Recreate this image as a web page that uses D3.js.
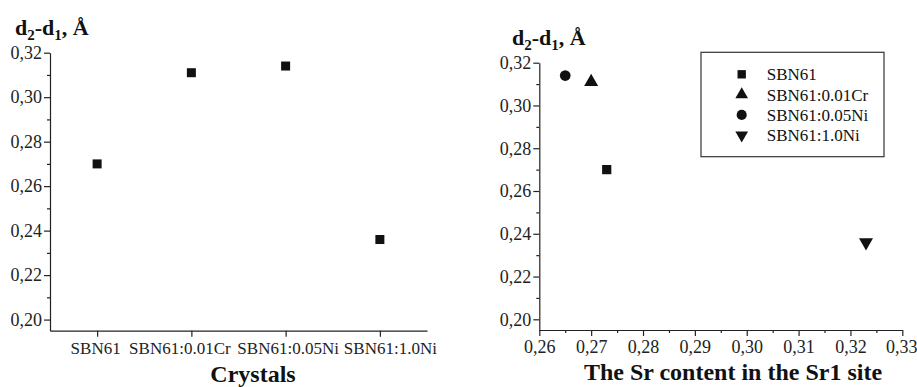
<!DOCTYPE html>
<html>
<head>
<meta charset="utf-8">
<script src="https://cdn.jsdelivr.net/npm/d3@7"></script>
<style>
  body { margin: 0; background: #fff; }
  svg, svg text { font-family: "Liberation Serif", "Times New Roman", serif; }
  .axis path, .axis line { stroke: #222; stroke-width: 1.2; }
  .axis text { fill: #222; }
</style>
</head>
<body>
<svg id="chart" width="917" height="387"></svg>
<script>
// left panel: d2-d1 per crystal
const crystals = ['SBN61', 'SBN61:0.01Cr', 'SBN61:0.05Ni', 'SBN61:1.0Ni'];
const deltaD = [0.270, 0.311, 0.314, 0.236];

// right panel: same values against Sr content in Sr1 site
const srContent = [0.273, 0.270, 0.265, 0.323];
const markerShapes = ['square', 'triangle', 'circle', 'triangleDown'];

const yTicks = [0.20, 0.22, 0.24, 0.26, 0.28, 0.30, 0.32];
const xTicksRight = [0.26, 0.27, 0.28, 0.29, 0.30, 0.31, 0.32, 0.33];

// the category labels sit a little off their ticks in the original
const labelShift = [-2, -12, 2, 10];

const svg = d3.select('#chart');
const comma = d => d3.format('.2f')(d).replace('.', ',');

function symbolFor(shape, size) {
  if (shape === 'square') return d3.symbol().type(d3.symbolSquare).size(size)();
  if (shape === 'circle') return d3.symbol().type(d3.symbolCircle).size(size)();
  // triangleDown is the same path rotated
  return d3.symbol().type(d3.symbolTriangle).size(size)();
}

function yTitle(x, y) {
  const t = svg.append('text')
    .attr('x', x).attr('y', y)
    .attr('font-size', 22).attr('font-weight', 'bold').attr('fill', '#111');
  t.append('tspan').text('d');
  t.append('tspan').attr('font-size', 15).attr('dy', 5).text('2');
  t.append('tspan').attr('dy', -5).text('-d');
  t.append('tspan').attr('font-size', 15).attr('dy', 5).text('1');
  t.append('tspan').attr('dy', -5).text(', Å');
}

function serif(s, size) {
  s.selectAll('text')
    .style('font-family', '"Liberation Serif", "Times New Roman", serif')
    .style('font-size', size + 'px');
}

function drawY(g, y, x0) {
  g.append('g').attr('class', 'axis')
    .attr('transform', `translate(${x0},0)`)
    .call(d3.axisLeft(y).tickValues(d3.range(0.21, 0.32, 0.02)).tickSize(3).tickFormat(''))
    .call(s => s.select('.domain').remove());
  g.append('g').attr('class', 'axis')
    .attr('transform', `translate(${x0},0)`)
    .call(d3.axisLeft(y).tickValues(yTicks).tickSize(6).tickSizeOuter(0).tickPadding(2).tickFormat(comma))
    .call(s => serif(s, 18));
}

// ---------- left panel ----------
const xL = d3.scaleLinear().domain([0.5, 4.5]).range([50, 427]);
const yL = d3.scaleLinear().domain([0.195, 0.32]).range([330.7, 52.7]);
const gL = svg.append('g');

drawY(gL, yL, 50);
gL.append('g').attr('class', 'axis')
  .attr('transform', 'translate(0,330.7)')
  .call(d3.axisBottom(xL).tickValues([1, 2, 3, 4]).tickSize(6).tickSizeOuter(0).tickPadding(5)
    .tickFormat(i => crystals[i - 1]))
  .call(s => serif(s, 17))
  .call(s => s.selectAll('text').attr('dx', (d, i) => labelShift[i]));

gL.selectAll('rect.pt')
  .data(deltaD)
  .join('rect')
  .attr('class', 'pt')
  .attr('x', (d, i) => xL(i + 1) - 4.5)
  .attr('y', d => yL(d) - 4.5)
  .attr('width', 9).attr('height', 9)
  .attr('fill', '#111');

yTitle(15, 35);
svg.append('text')
  .attr('x', 253).attr('y', 382)
  .attr('text-anchor', 'middle')
  .attr('font-size', 24).attr('font-weight', 'bold').attr('fill', '#111')
  .text('Crystals');

// ---------- right panel ----------
const xR = d3.scaleLinear().domain([0.26, 0.33]).range([539.3, 902.3]);
const yR = d3.scaleLinear().domain([0.195, 0.32]).range([330, 62.7]);
const gR = svg.append('g');

drawY(gR, yR, 539.3);
gR.append('g').attr('class', 'axis')
  .attr('transform', 'translate(0,330)')
  .call(d3.axisBottom(xR).tickValues(d3.range(0.265, 0.33, 0.01)).tickSize(3).tickFormat(''))
  .call(s => s.select('.domain').remove());
gR.append('g').attr('class', 'axis')
  .attr('transform', 'translate(0,330)')
  .call(d3.axisBottom(xR).tickValues(xTicksRight).tickSize(6).tickSizeOuter(0).tickPadding(4).tickFormat(comma))
  .call(s => serif(s, 18))
  .call(s => s.selectAll('text').filter(d => d > 0.325).attr('dx', -1));

gR.selectAll('path.pt')
  .data(deltaD)
  .join('path')
  .attr('class', 'pt')
  .attr('d', (d, i) => symbolFor(markerShapes[i], markerShapes[i] === 'circle' ? 90 : 85))
  .attr('transform', (d, i) => `translate(${xR(srContent[i])},${yR(d)})` + (markerShapes[i] === 'triangleDown' ? ' rotate(180)' : ''))
  .attr('fill', '#111');

yTitle(512, 45);
svg.append('text')
  .attr('x', 733).attr('y', 380)
  .attr('text-anchor', 'middle')
  .attr('font-size', 24).attr('font-weight', 'bold').attr('fill', '#111')
  .text('The Sr content in the Sr1 site');

// legend
const legend = svg.append('g').attr('transform', 'translate(701,52.3)');
legend.append('rect')
  .attr('width', 183).attr('height', 104.4)
  .attr('fill', '#fff').attr('stroke', '#333').attr('stroke-width', 1.2);
const rows = legend.selectAll('g.row')
  .data(crystals)
  .join('g')
  .attr('class', 'row')
  .attr('transform', (d, i) => `translate(0,${22 + i * 20.3})`);
rows.append('path')
  .attr('d', (d, i) => symbolFor(markerShapes[i], markerShapes[i] === 'circle' ? 80 : 70))
  .attr('transform', (d, i) => 'translate(40.7,0)' + (markerShapes[i] === 'triangleDown' ? ' rotate(180)' : ''))
  .attr('fill', '#111');
rows.append('text')
  .attr('x', 65.7).attr('dy', '0.35em')
  .attr('font-size', 17).attr('fill', '#111')
  .text(d => d);
</script>
</body>
</html>
